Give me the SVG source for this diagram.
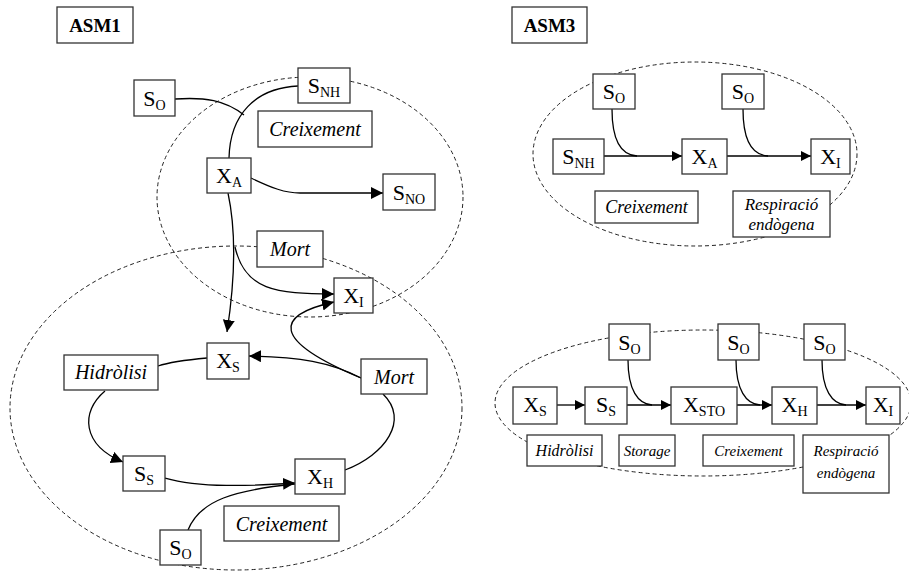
<svg xmlns="http://www.w3.org/2000/svg" width="909" height="571" viewBox="0 0 909 571">
<defs>
<style>
.b{fill:#fff;stroke:#333;stroke-width:1.3}
.t{font-family:"Liberation Serif","Times New Roman",serif;font-size:22px;fill:#000;text-anchor:middle}
.s{font-size:14px}
.i{font-family:"Liberation Serif","Times New Roman",serif;font-style:italic;fill:#000;text-anchor:middle}
.h{font-family:"Liberation Serif","Times New Roman",serif;font-weight:bold;font-size:19px;fill:#000;text-anchor:middle}
.e{fill:none;stroke:#222;stroke-width:1;stroke-dasharray:4,3}
.c{fill:none;stroke:#000;stroke-width:1.3}
.a{marker-end:url(#ar)}
.a2{marker-end:url(#ar2)}
</style>
<marker id="ar" markerUnits="userSpaceOnUse" markerWidth="14" markerHeight="13" refX="12" refY="6" orient="auto">
<path d="M0,0 L12,6 L0,12 z" fill="#000"/>
</marker>
<marker id="ar2" markerUnits="userSpaceOnUse" markerWidth="12" markerHeight="11" refX="10" refY="5" orient="auto">
<path d="M0,0 L10,5 L0,10 z" fill="#000"/>
</marker>
</defs>
<g id="ellipses">
<ellipse class="e" cx="310" cy="197" rx="153" ry="120"/>
<ellipse class="e" cx="236" cy="408" rx="226" ry="162"/>
<ellipse class="e" cx="695" cy="154" rx="162" ry="92"/>
<ellipse class="e" cx="703" cy="403" rx="208" ry="73"/>
</g>
<g id="connectors">
<path class="c" d="M175,99 C205,97 225,100 244,115"/>
<path class="c" d="M298,86 C255,88 230,115 229,158"/>
<path class="c a" d="M251,178 C272,188 285,193 300,193 L383,193"/>
<path class="c a" d="M228,193 C237,235 235,280 227,332"/>
<path class="c a" d="M235,247 C245,290 275,294 334,294"/>
<path class="c a" d="M361,378 C270,340 275,315 334,302"/>
<path class="c a" d="M361,378 C330,362 300,357 249,356"/>
<path class="c" d="M207,358 C185,360 170,362 158,366"/>
<path class="c a" d="M105,391 C80,412 82,445 123,462"/>
<path class="c a" d="M165,478 C200,488 250,486 295,483"/>
<path class="c" d="M188,530 C200,500 235,490 295,484"/>
<path class="c" d="M345,470 C385,455 410,420 383,394"/>
<path class="c a2" d="M604,156 L682,156"/>
<path class="c" d="M612,109 C612,140 620,155 637,156"/>
<path class="c a2" d="M727,156 L811,156"/>
<path class="c" d="M743,109 C743,140 751,155 768,156"/>
<path class="c a2" d="M557,405 L585,405"/>
<path class="c a2" d="M627,405 L671,405"/>
<path class="c" d="M628,360 C628,390 638,404 652,405"/>
<path class="c a2" d="M737,405 L772,405"/>
<path class="c" d="M736,360 C736,390 746,404 760,405"/>
<path class="c a2" d="M817,405 L866,405"/>
<path class="c" d="M822,360 C822,390 832,404 846,405"/>
</g>
<g id="asm1-title"><rect class="b" x="57" y="7" width="76" height="36"/><text class="h" x="95" y="32">ASM1</text></g>
<g id="asm3-title"><rect class="b" x="512" y="7" width="75" height="36"/><text class="h" x="549.5" y="32">ASM3</text></g>
<g id="a-so"><rect class="b" x="134" y="80" width="41" height="36"/><text class="t" x="154.5" y="106">S<tspan class="s" dy="4">O</tspan></text></g>
<g id="a-snh"><rect class="b" x="298" y="68" width="52" height="35"/><text class="t" x="324" y="93">S<tspan class="s" dy="4">NH</tspan></text></g>
<g id="a-creix"><rect class="b" x="258" y="111" width="114" height="36"/><text class="i" font-size="20" x="315" y="136">Creixement</text></g>
<g id="a-xa"><rect class="b" x="207" y="158" width="44" height="35"/><text class="t" x="229" y="183">X<tspan class="s" dy="4">A</tspan></text></g>
<g id="a-sno"><rect class="b" x="383" y="174" width="52" height="36"/><text class="t" x="409" y="200">S<tspan class="s" dy="4">NO</tspan></text></g>
<g id="a-mort1"><rect class="b" x="257" y="231" width="66" height="36"/><text class="i" font-size="20" x="290" y="256">Mort</text></g>
<g id="a-xi"><rect class="b" x="334" y="278" width="39" height="35"/><text class="t" x="353.5" y="303">X<tspan class="s" dy="4">I</tspan></text></g>
<g id="a-xs"><rect class="b" x="207" y="343" width="42" height="36"/><text class="t" x="228" y="368">X<tspan class="s" dy="4">S</tspan></text></g>
<g id="a-hidro"><rect class="b" x="64" y="355" width="94" height="35"/><text class="i" font-size="20" x="111" y="379">Hidròlisi</text></g>
<g id="a-mort2"><rect class="b" x="361" y="359" width="66" height="35"/><text class="i" font-size="20" x="394" y="384">Mort</text></g>
<g id="a-ss"><rect class="b" x="123" y="456" width="42" height="35"/><text class="t" x="144" y="481">S<tspan class="s" dy="4">S</tspan></text></g>
<g id="a-xh"><rect class="b" x="295" y="459" width="50" height="35"/><text class="t" x="320" y="484">X<tspan class="s" dy="4">H</tspan></text></g>
<g id="a-creix2"><rect class="b" x="224" y="506" width="115" height="35"/><text class="i" font-size="20" x="281.5" y="531">Creixement</text></g>
<g id="a-so2"><rect class="b" x="160" y="530" width="41" height="35"/><text class="t" x="180.5" y="555">S<tspan class="s" dy="4">O</tspan></text></g>
<g id="b-so1"><rect class="b" x="593" y="74" width="42" height="35"/><text class="t" x="614" y="99">S<tspan class="s" dy="4">O</tspan></text></g>
<g id="b-so2"><rect class="b" x="722" y="74" width="42" height="35"/><text class="t" x="743" y="99">S<tspan class="s" dy="4">O</tspan></text></g>
<g id="b-snh"><rect class="b" x="553" y="139" width="51" height="35"/><text class="t" x="578.5" y="164">S<tspan class="s" dy="4">NH</tspan></text></g>
<g id="b-xa"><rect class="b" x="682" y="139" width="45" height="35"/><text class="t" x="704.5" y="164">X<tspan class="s" dy="4">A</tspan></text></g>
<g id="b-xi"><rect class="b" x="811" y="139" width="39" height="35"/><text class="t" x="830.5" y="164">X<tspan class="s" dy="4">I</tspan></text></g>
<g id="b-creix"><rect class="b" x="595" y="191" width="103" height="32"/><text class="i" font-size="18" x="646.5" y="213">Creixement</text></g>
<g id="b-resp"><rect class="b" x="733" y="191" width="97" height="46"/><text class="i" font-size="17" x="781.5" y="210">Respiració</text><text class="i" font-size="17" x="781.5" y="230">endògena</text></g>
<g id="c-so1"><rect class="b" x="609" y="324" width="41" height="36"/><text class="t" x="629.5" y="350">S<tspan class="s" dy="4">O</tspan></text></g>
<g id="c-so2"><rect class="b" x="718" y="324" width="41" height="36"/><text class="t" x="738.5" y="350">S<tspan class="s" dy="4">O</tspan></text></g>
<g id="c-so3"><rect class="b" x="804" y="324" width="41" height="36"/><text class="t" x="824.5" y="350">S<tspan class="s" dy="4">O</tspan></text></g>
<g id="c-xs"><rect class="b" x="513" y="387" width="44" height="37"/><text class="t" x="535" y="412">X<tspan class="s" dy="4">S</tspan></text></g>
<g id="c-ss"><rect class="b" x="585" y="387" width="42" height="37"/><text class="t" x="606" y="412">S<tspan class="s" dy="4">S</tspan></text></g>
<g id="c-xsto"><rect class="b" x="671" y="387" width="66" height="37"/><text class="t" x="704" y="412">X<tspan class="s" dy="4">STO</tspan></text></g>
<g id="c-xh"><rect class="b" x="772" y="387" width="45" height="37"/><text class="t" x="794.5" y="412">X<tspan class="s" dy="4">H</tspan></text></g>
<g id="c-xi"><rect class="b" x="866" y="387" width="34" height="37"/><text class="t" x="883" y="412">X<tspan class="s" dy="4">I</tspan></text></g>
<g id="c-hidro"><rect class="b" x="527" y="435" width="75" height="31"/><text class="i" font-size="16" x="564.5" y="456">Hidròlisi</text></g>
<g id="c-stor"><rect class="b" x="619" y="435" width="56" height="31"/><text class="i" font-size="15" x="647" y="456">Storage</text></g>
<g id="c-creix"><rect class="b" x="703" y="435" width="91" height="31"/><text class="i" font-size="15" x="748.5" y="456">Creixement</text></g>
<g id="c-resp"><rect class="b" x="803" y="435" width="86" height="58"/><text class="i" font-size="15" x="846" y="456">Respiració</text><text class="i" font-size="15" x="846" y="478">endògena</text></g>
</svg>
